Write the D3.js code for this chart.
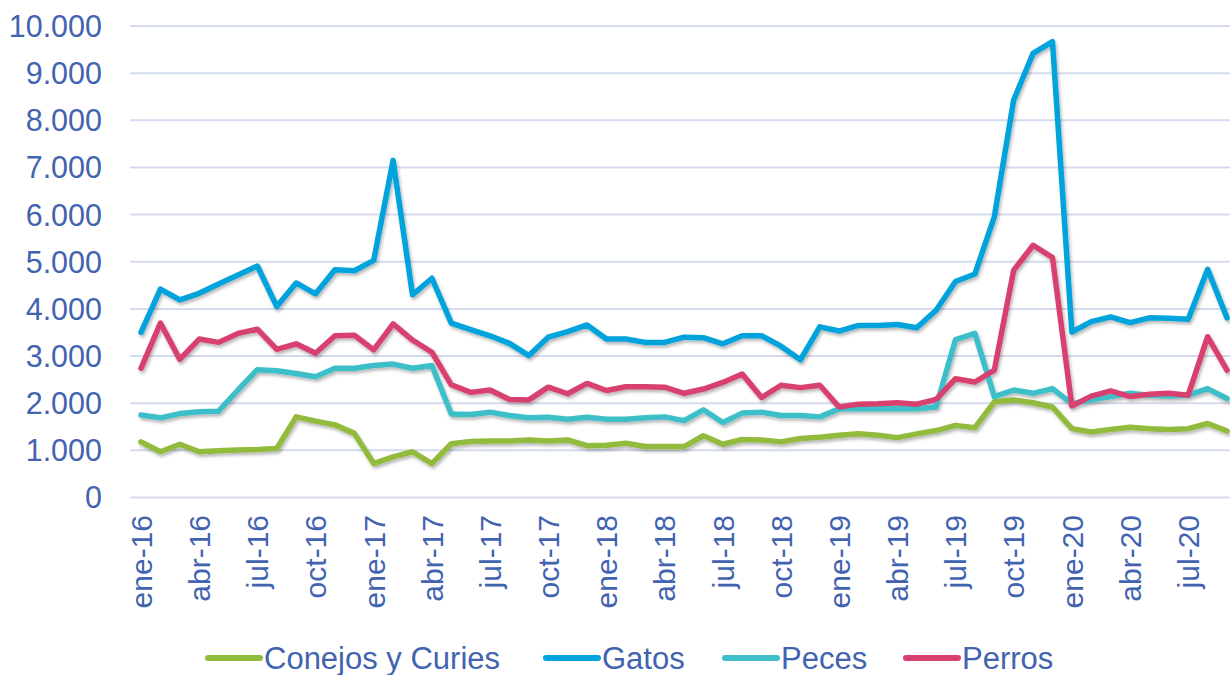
<!DOCTYPE html>
<html>
<head>
<meta charset="utf-8">
<script src="https://cdn.jsdelivr.net/npm/d3@7"></script>
<style>
  body { margin: 0; background: #fff; }
  svg text { font-family: "Liberation Sans", Arial, sans-serif; fill: #4263B0; }
</style>
</head>
<body>
<div id="chart"></div>
<script>
// data
var monthNames = ["ene","feb","mar","abr","may","jun","jul","ago","sep","oct","nov","dic"];
var years = ["16","17","18","19","20"];
var lastMonthCount = 57; // ene-16 .. sep-20

var conejos = [1180,970,1130,970,990,1010,1020,1040,1710,1620,1540,1360,720,860,970,720,
  1140,1190,1200,1200,1220,1200,1220,1100,1110,1150,1080,1080,1080,1310,1130,1230,
  1220,1180,1250,1280,1320,1350,1320,1270,1350,1420,1530,1480,2030,2070,2010,1920,
  1460,1390,1440,1490,1460,1440,1460,1570,1410];
var gatos = [3500,4420,4190,4330,4530,4720,4910,4050,4550,4320,4830,4810,5030,7150,4300,4650,
  3700,3560,3430,3270,3010,3400,3520,3660,3360,3360,3290,3290,3400,3390,3260,3430,
  3430,3210,2920,3620,3530,3650,3650,3670,3600,3970,4580,4740,5950,8430,9420,9670,
  3510,3730,3830,3710,3810,3800,3780,4840,3810];
var peces = [1750,1690,1780,1820,1830,2280,2710,2690,2630,2560,2740,2740,2800,2830,2740,2800,
  1770,1760,1810,1740,1690,1700,1660,1700,1660,1660,1690,1710,1630,1860,1590,1790,
  1810,1740,1740,1710,1880,1880,1880,1880,1880,1920,3350,3480,2140,2280,2210,2310,
  1990,2070,2140,2210,2170,2150,2170,2310,2100];
var perros = [2740,3700,2930,3360,3290,3480,3570,3140,3260,3060,3430,3440,3130,3680,3340,3080,
  2390,2230,2280,2080,2070,2340,2200,2420,2270,2350,2350,2340,2210,2300,2440,2620,
  2120,2380,2330,2380,1920,1980,1990,2010,1980,2080,2520,2450,2700,4820,5350,5090,
  1940,2150,2260,2140,2190,2210,2170,3410,2700];

var seriesNames = ["Conejos y Curies","Gatos","Peces","Perros"];
var seriesColors = ["#92BB3C","#00A3DC","#3EBFC9","#D8416F"];
var yTicks = [0,1000,2000,3000,4000,5000,6000,7000,8000,9000,10000];

var categories = [];
years.forEach(function(y) {
    monthNames.forEach(function(m) {
        if (categories.length < lastMonthCount) categories.push(m + "-" + y);
    });
});
var allSeries = [conejos, gatos, peces, perros];

var width = 1230,
    height = 675;

var svg = d3.select("#chart")
    .append("svg")
    .attr("width", width)
    .attr("height", height);

var defs = svg.append("defs");
var shadow = defs.append("filter")
    .attr("id", "shadow")
    .attr("x", "-5%").attr("y", "-5%")
    .attr("width", "110%").attr("height", "120%");
shadow.append("feDropShadow")
    .attr("dx", 1.5).attr("dy", 2.5)
    .attr("stdDeviation", 1.8)
    .attr("flood-color", "#000")
    .attr("flood-opacity", 0.28);

var x = d3.scalePoint().domain(categories).range([141, 1227]);
var y = d3.scaleLinear().domain([0, 10000]).range([497.5, 26]);

var locale = d3.formatLocale({decimal: ",", thousands: ".", grouping: [3], currency: ["$", ""]});
var fmt = locale.format(",d");

// gridlines
svg.append("g")
    .selectAll("line")
    .data(yTicks)
    .enter().append("line")
    .attr("x1", 130)
    .attr("x2", width)
    .attr("y1", function(d) { return y(d); })
    .attr("y2", function(d) { return y(d); })
    .attr("stroke", "#D5DBEE")
    .attr("stroke-width", 2);

// y labels
svg.append("g")
    .selectAll("text")
    .data(yTicks)
    .enter().append("text")
    .attr("x", 102)
    .attr("y", function(d) { return y(d); })
    .attr("dy", "0.36em")
    .attr("text-anchor", "end")
    .style("font-size", "30.5px")
    .text(function(d) { return fmt(d); });

// x labels every 3 months
svg.append("g")
    .selectAll("text")
    .data(categories.filter(function(d, i) { return i % 3 === 0; }))
    .enter().append("text")
    .attr("transform", function(d) { return "translate(" + x(d) + ",515) rotate(-90)"; })
    .attr("dy", "0.36em")
    .attr("text-anchor", "end")
    .style("font-size", "30px")
    .text(function(d) { return d; });

// lines
var line = d3.line()
    .x(function(d, i) { return x(categories[i]); })
    .y(function(d) { return y(d); });

svg.append("g")
    .attr("filter", "url(#shadow)")
    .selectAll("path")
    .data(allSeries)
    .enter().append("path")
    .attr("d", line)
    .attr("fill", "none")
    .attr("stroke", function(d, i) { return seriesColors[i]; })
    .attr("stroke-width", 5.5)
    .attr("stroke-linejoin", "round")
    .attr("stroke-linecap", "round");

// legend
var legendX = [205, 543, 722, 903];
var legend = svg.append("g")
    .selectAll("g")
    .data(seriesNames)
    .enter().append("g")
    .attr("transform", function(d, i) { return "translate(" + legendX[i] + ",658)"; });
legend.append("line")
    .attr("x1", 3).attr("x2", 55)
    .attr("stroke", function(d, i) { return seriesColors[i]; })
    .attr("stroke-width", 6)
    .attr("stroke-linecap", "round");
legend.append("text")
    .attr("x", 59)
    .attr("dy", "0.36em")
    .style("font-size", "31px")
    .text(function(d) { return d; });
</script>
</body>
</html>
